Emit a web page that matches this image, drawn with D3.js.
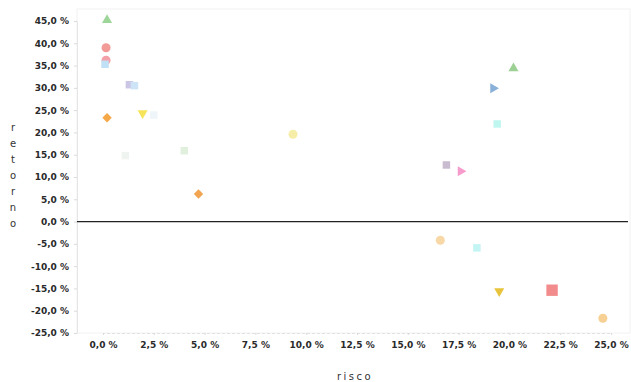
<!DOCTYPE html>
<html>
<head>
<meta charset="utf-8">
<script src="https://cdn.jsdelivr.net/npm/d3@7"></script>
<style>
    body { margin: 0; background: #fff; }
    svg { display: block; }
    .tick-label { font-family: "DejaVu Sans", sans-serif; font-size: 9px; font-weight: bold; fill: #2a2a2a; }
    .axis-title { font-family: "DejaVu Sans", sans-serif; font-size: 10px; fill: #333; }
</style>
</head>
<body>
<div id="chart"></div>
<script>
// ativos (um por símbolo)
const ativos = ['A01', 'A02', 'A03', 'A04', 'A05', 'A06', 'A07', 'A08', 'A09', 'A10',
    'A11', 'A12', 'A13', 'A14', 'A15', 'A16', 'A17', 'A18', 'A19', 'A20', 'A21', 'A22', 'A23'];
const risco = [0.2, 0.15, 0.15, 0.1, 1.3, 1.55, 0.2, 1.95, 2.5, 1.1, 4.0, 4.7,
    9.35, 16.9, 17.6, 19.2, 20.2, 19.4, 16.6, 18.4, 19.5, 22.1, 24.6];
const retorno = [45.2, 39.0, 36.2, 35.3, 30.7, 30.5, 23.3, 24.3, 23.9, 14.8, 15.9, 6.2,
    19.6, 12.7, 11.3, 29.9, 34.4, 21.9, -4.2, -5.9, -15.6, -15.4, -21.7];

const xTicks = [0, 2.5, 5, 7.5, 10, 12.5, 15, 17.5, 20, 22.5, 25];
const yTicks = [45, 40, 35, 30, 25, 20, 15, 10, 5, 0, -5, -10, -15, -20, -25];

// aparência de cada ativo: forma e cor
const estilos = {
    A01: ['triangle', '#9ed69a'], A02: ['circle', '#f29a98'], A03: ['circle', '#f4a0a8'],
    A04: ['square', '#c0e0f6'], A05: ['square', '#ccc6e6'], A06: ['square', '#cce4f6'],
    A07: ['diamond', '#f4a848'], A08: ['triangleDown', '#f6e45a'], A09: ['square', '#eef6fa'],
    A10: ['square', '#f0f4f0'], A11: ['square', '#e0f0dc'], A12: ['diamond', '#f2a450'],
    A13: ['circle', '#f6eea8'], A14: ['square', '#cabcd0'], A15: ['triangleRight', '#f69ccc'],
    A16: ['triangleRight', '#88b0d8'], A17: ['triangle', '#9cd094'], A18: ['square', '#c0f6f0'],
    A19: ['circle', '#f7d8a6'], A20: ['square', '#c4f4f4'], A21: ['triangleDown', '#e8c43c'],
    A22: ['square', '#f28c8c'], A23: ['circle', '#f7d094']
};

const W = 631, H = 382;
const plot = { left: 77, right: 630, top: 9, bottom: 333 };

const svg = d3.select('#chart').append('svg')
    .attr('width', W)
    .attr('height', H);

const x = d3.scaleLinear().domain([0, 25]).range([103, 611]);
const y = d3.scaleLinear().domain([-25, 45]).range([333, 21]);
const fmt = v => d3.format('.1f')(v).replace('.', ',').replace('−', '-') + ' %';

// moldura fraca da área de plotagem
svg.append('rect')
    .attr('x', plot.left)
    .attr('y', plot.top)
    .attr('width', plot.right - plot.left)
    .attr('height', plot.bottom - plot.top)
    .attr('fill', 'none')
    .attr('stroke', '#f2f2f2');

// eixo y
const yAxis = svg.append('g')
    .attr('transform', `translate(${plot.left},0)`)
    .call(d3.axisLeft(y).tickValues(yTicks).tickSize(3).tickFormat(fmt));
yAxis.select('.domain').attr('stroke', '#e6e6e6');
yAxis.selectAll('.tick line').attr('stroke', '#dadada');
yAxis.selectAll('text').attr('class', 'tick-label').attr('x', -8);

// eixo x
const xAxis = svg.append('g')
    .attr('transform', `translate(0,${plot.bottom})`)
    .call(d3.axisBottom(x).tickValues(xTicks).tickSize(2).tickFormat(fmt));
xAxis.select('.domain').attr('stroke', '#e2e2e2').attr('stroke-dasharray', '3,2');
xAxis.selectAll('.tick line').attr('stroke', '#dadada');
xAxis.selectAll('text').attr('class', 'tick-label').attr('y', 9);

// linha do zero
svg.append('line')
    .attr('x1', plot.left)
    .attr('x2', plot.right - 2)
    .attr('y1', y(0))
    .attr('y2', y(0))
    .attr('stroke', '#222')
    .attr('stroke-width', 1.2);

// símbolos
const simbolo = {
    circle: d3.symbolCircle,
    square: d3.symbolSquare,
    diamond: d3.symbolSquare,
    triangle: d3.symbolTriangle
};
const tamanhos = { circle: 64, square: 56, diamond: 44, triangle: 44, triangleRight: 44, triangleDown: 44 };

function desenhaForma(g, forma, tam) {
    let rot = 0;
    if (forma === 'triangleRight') rot = 90;
    if (forma === 'triangleDown') rot = 180;
    if (forma === 'diamond') rot = 45;
    const tipo = forma.startsWith('triangle') ? d3.symbolTriangle : simbolo[forma];
    g.append('path')
        .attr('d', d3.symbol().type(tipo).size(tam)())
        .attr('transform', `rotate(${rot})`);
}

const pontos = svg.append('g');
ativos.forEach((a, i) => {
    const [forma, cor] = estilos[a];
    const g = pontos.append('g')
        .attr('transform', `translate(${x(risco[i])},${y(retorno[i])})`)
        .attr('fill', cor);
    const tam = a === 'A22' ? 130 : tamanhos[forma];
    desenhaForma(g, forma, tam);
});

// títulos dos eixos
svg.append('text')
    .attr('class', 'axis-title')
    .attr('x', 355)
    .attr('y', 380)
    .attr('text-anchor', 'middle')
    .attr('letter-spacing', '2.5px')
    .text('risco');

const letras = 'retorno'.split('');
svg.append('g').selectAll('text')
    .data(letras)
    .enter()
    .append('text')
    .attr('class', 'axis-title')
    .attr('x', 13)
    .attr('y', (d, i) => 131 + i * 16)
    .attr('text-anchor', 'middle')
    .text(d => d);
</script>
</body>
</html>
